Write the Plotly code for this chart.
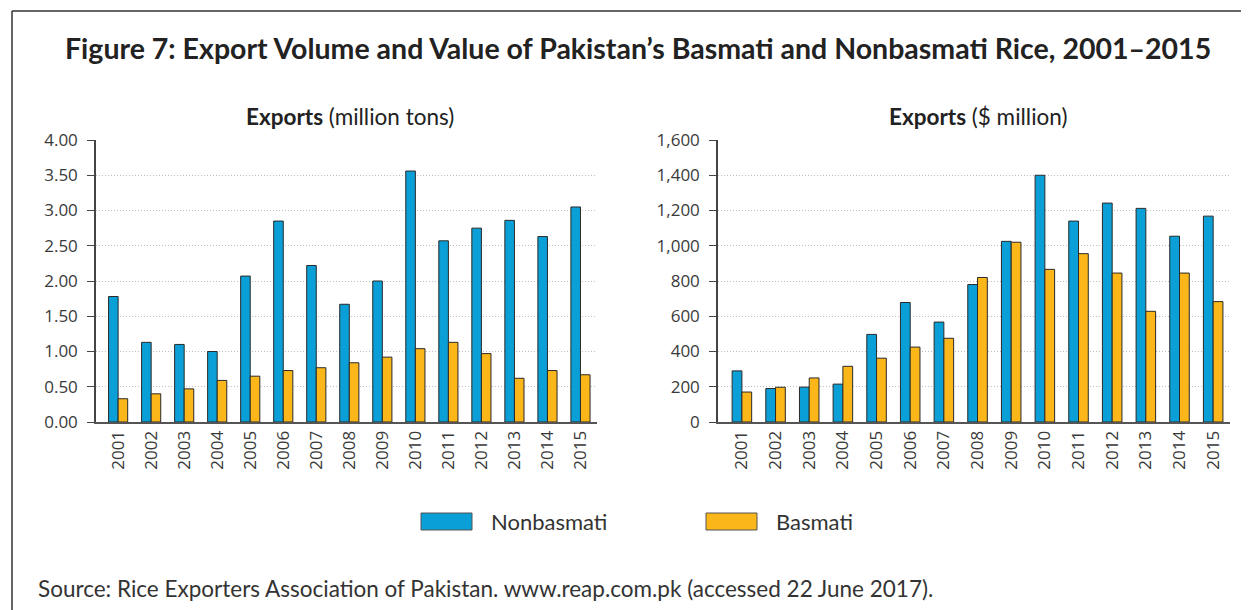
import plotly.graph_objects as go

years = [str(y) for y in range(2001, 2016)]
vol_nonbasmati = [1.78, 1.13, 1.10, 1.00, 2.07, 2.85, 2.22, 1.67, 2.00, 3.56, 2.57, 2.75, 2.86, 2.63, 3.05]
vol_basmati = [0.33, 0.40, 0.47, 0.59, 0.65, 0.73, 0.77, 0.84, 0.92, 1.04, 1.13, 0.97, 0.62, 0.73, 0.67]
val_nonbasmati = [290, 190, 198, 215, 497, 678, 567, 780, 1025, 1400, 1140, 1242, 1212, 1054, 1168]
val_basmati = [170, 197, 250, 316, 362, 425, 475, 820, 1020, 866, 955, 845, 628, 845, 683]

left_ticks = [0, 0.5, 1, 1.5, 2, 2.5, 3, 3.5, 4]
left_ticklabels = ["0.00", "0.50", "1.00", "1.50", "2.00", "2.50", "3.00", "3.50", "4.00"]
right_ticks = [0, 200, 400, 600, 800, 1000, 1200, 1400, 1600]
right_ticklabels = ["0", "200", "400", "600", "800", "1,000", "1,200", "1,400", "1,600"]

BLUE = "#0A9FD6"
ORANGE = "#FBB619"
EDGE = "#2a2a2a"
OFF = 8  # page body margin
W, H = 1249 - OFF, 610 - OFF
FONT = "Lato"

def px(x):
    return (x - OFF) / W

def py(y):
    return 1 - (y - OFF) / H

fig = go.Figure()
fig.add_trace(go.Bar(x=years, y=vol_nonbasmati, marker=dict(color=BLUE, line=dict(color=EDGE, width=1)),
                     xaxis="x", yaxis="y", name="Nonbasmati", showlegend=False))
fig.add_trace(go.Bar(x=years, y=vol_basmati, marker=dict(color=ORANGE, line=dict(color=EDGE, width=1)),
                     xaxis="x", yaxis="y", name="Basmati", showlegend=False))
fig.add_trace(go.Bar(x=years, y=val_nonbasmati, marker=dict(color=BLUE, line=dict(color=EDGE, width=1)),
                     xaxis="x2", yaxis="y2", name="Nonbasmati", showlegend=False))
fig.add_trace(go.Bar(x=years, y=val_basmati, marker=dict(color=ORANGE, line=dict(color=EDGE, width=1)),
                     xaxis="x2", yaxis="y2", name="Basmati", showlegend=False))

ydom = [py(422), py(140)]
tickfont = dict(family="Open Sans", size=17, color="#3a3a3a")
xcommon = dict(type="category", tickangle=-90, showgrid=False, showline=True, linecolor="#555",
               linewidth=2, ticks="", tickfont=tickfont, automargin=False, zeroline=False)
ycommon = dict(showgrid=True, gridcolor="#bdbdbd", griddash="1px,2px", gridwidth=1, showline=True,
               linecolor="#444", linewidth=1.5, ticks="outside", ticklen=7, tickcolor="#444",
               ticklabelstandoff=6, automargin=False,
               tickfont=tickfont, zeroline=False, domain=ydom)

fig.update_layout(
    width=W, height=H, margin=dict(l=0, r=0, t=0, b=0, pad=0, autoexpand=False),
    paper_bgcolor="white", plot_bgcolor="white",
    barmode="group", bargap=0.42, bargroupgap=0,
    showlegend=False,
    xaxis=dict(xcommon, domain=[px(96), px(597)], range=[-0.67, 14.5], anchor="y"),
    yaxis=dict(ycommon, range=[0, 4], tickvals=left_ticks, ticktext=left_ticklabels, anchor="x"),
    xaxis2=dict(xcommon, domain=[px(718), px(1230)], range=[-0.71, 14.5], anchor="y2"),
    yaxis2=dict(ycommon, range=[0, 1600], tickvals=right_ticks, ticktext=right_ticklabels, anchor="x2"),
    font=dict(family=FONT, color="#333"),
)

# frame
fig.add_shape(type="line", xref="paper", yref="paper", x0=px(12), x1=1, y0=py(11), y1=py(11),
              line=dict(color="#333", width=1.5))
fig.add_shape(type="line", xref="paper", yref="paper", x0=px(12), x1=px(12), y0=py(11), y1=0,
              line=dict(color="#333", width=1.5))

# title
fig.add_annotation(xref="paper", yref="paper", x=px(638), y=py(48), showarrow=False,
                   text="<b>Figure 7: Export Volume and Value of Pakistan\u2019s Basmati and Nonbasmati Rice, 2001\u20132015</b>",
                   font=dict(family=FONT, size=28.5, color="#222"), xanchor="center", yanchor="middle")
# subplot titles
fig.add_annotation(xref="paper", yref="paper", x=px(350), y=py(116), showarrow=False,
                   text="<b>Exports</b> (million tons)", font=dict(family=FONT, size=22.5, color="#222"),
                   xanchor="center", yanchor="middle")
fig.add_annotation(xref="paper", yref="paper", x=px(978), y=py(116), showarrow=False,
                   text="<b>Exports</b> ($ million)", font=dict(family=FONT, size=22.5, color="#222"),
                   xanchor="center", yanchor="middle")

# legend
for x0, color, label in [(421, BLUE, "Nonbasmati"), (706, ORANGE, "Basmati")]:
    fig.add_shape(type="rect", xref="paper", yref="paper", x0=px(x0), x1=px(x0 + 51), y0=py(530), y1=py(513),
                  fillcolor=color, line=dict(color="#555", width=1))
    fig.add_annotation(xref="paper", yref="paper", x=px(x0 + 68), y=py(521), showarrow=False, text=label,
                       font=dict(family=FONT, size=22, color="#333"), xanchor="left", yanchor="middle")

# source
fig.add_annotation(xref="paper", yref="paper", x=px(36), y=py(588), showarrow=False,
                   text="Source: Rice Exporters Association of Pakistan. www.reap.com.pk (accessed 22 June 2017).",
                   font=dict(family=FONT, size=22.5, color="#333"), xanchor="left", yanchor="middle")

fig.write_html("out.html")
